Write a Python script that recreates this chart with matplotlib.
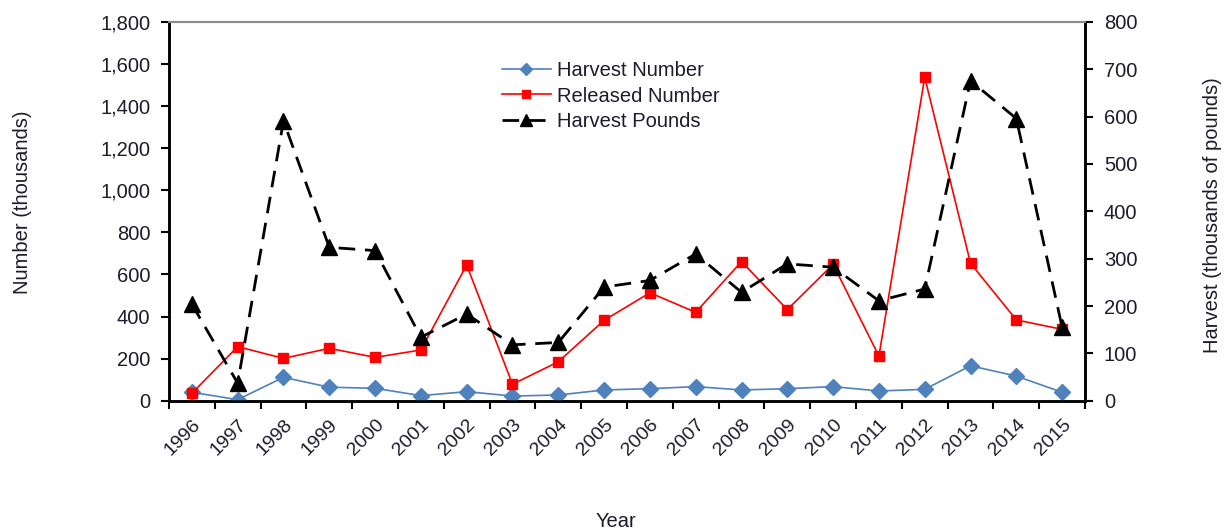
import matplotlib
matplotlib.use("Agg")
import matplotlib.pyplot as plt
from matplotlib.ticker import FuncFormatter, MultipleLocator, FixedLocator
import numpy as np

plt.rcParams['font.family'] = ['Liberation Sans', 'DejaVu Sans']

years = list(range(1996, 2016))
harvest_number = [40, 5, 111, 64, 59, 24, 43, 22, 27, 51,
                  57, 67, 51, 57, 67, 46, 54, 166, 117, 40]
released_number = [35, 257, 201, 249, 206, 241, 645, 78, 185, 382,
                   513, 420, 661, 433, 648, 212, 1537, 653, 384, 339]
harvest_pounds = [204, 37, 591, 324, 317, 134, 183, 118, 123, 240,
                  254, 310, 229, 289, 282, 211, 236, 676, 596, 155]

TXT = '#1c1c2c'
FS = 14.5

fig = plt.figure(figsize=(12.27, 5.31), dpi=100)
ax = fig.add_axes([0.1377, 0.2454, 0.7466, 0.7132])
ax2 = ax.twinx()

x = np.arange(len(years))
l1, = ax.plot(x, harvest_number, color='#4F81BD', lw=1.2, marker='D',
              ms=8, mec='#4F81BD', label='Harvest Number', zorder=3)
l2, = ax.plot(x, released_number, color='#FF0000', lw=1.2, marker='s',
              ms=7, label='Released Number', zorder=3)
l3, = ax2.plot(x, harvest_pounds, color='black', lw=2, ls=(0, (6, 3.5)),
               marker='^', ms=12, label='Harvest Pounds', zorder=3)

ax.set_xlim(-0.5, len(years) - 0.5)
ax.set_ylim(0, 1800)
ax2.set_ylim(0, 800)
ax.yaxis.set_major_locator(MultipleLocator(200))
ax2.yaxis.set_major_locator(MultipleLocator(100))
ax.yaxis.set_major_formatter(FuncFormatter(lambda v, p: f'{int(v):,}'))

# year labels sit between the boundary ticks
ax.xaxis.set_major_locator(FixedLocator(np.arange(-0.5, len(years), 1)))
ax.xaxis.set_major_formatter(FuncFormatter(lambda v, p: ''))
ax.xaxis.set_minor_locator(FixedLocator(x))
ax.set_xticklabels([str(y) for y in years], minor=True, rotation=45,
                   ha='right', rotation_mode='anchor', fontsize=FS - 0.5,
                   color=TXT)
ax.tick_params(axis='x', which='minor', length=0, pad=11)
ax.tick_params(axis='x', which='major', length=6, width=1.5, direction='out')
ax.tick_params(axis='y', length=6, width=1.5, pad=7.5, labelsize=FS,
               labelcolor=TXT)
ax2.tick_params(axis='y', length=6, width=1.5, pad=7.5, labelsize=FS,
                labelcolor=TXT)

for a in (ax, ax2):
    for s in ('left', 'right', 'bottom'):
        a.spines[s].set_linewidth(1.8)
        a.spines[s].set_color('black')
    a.spines['top'].set_color('#8c8c8c')
    a.spines['top'].set_linewidth(1.5)

fig.text(0.502, 0.0, 'Year', ha='center', va='bottom', fontsize=FS, color=TXT)
fig.text(0.018, 0.62, 'Number (thousands)', rotation=90, ha='center',
         va='center', fontsize=FS, color=TXT)
fig.text(0.988, 0.595, 'Harvest (thousands of pounds)', rotation=90,
         ha='center', va='center', fontsize=FS, color=TXT)

leg = ax.legend(handles=[l1, l2, l3], loc='upper left',
                bbox_to_anchor=(0.355, 0.917), frameon=False, fontsize=FS,
                handlelength=2.4, handletextpad=0.3, labelspacing=0.3,
                borderaxespad=0, markerscale=0.75)
for t in leg.get_texts():
    t.set_color(TXT)

fig.savefig('out.png', dpi=100)
